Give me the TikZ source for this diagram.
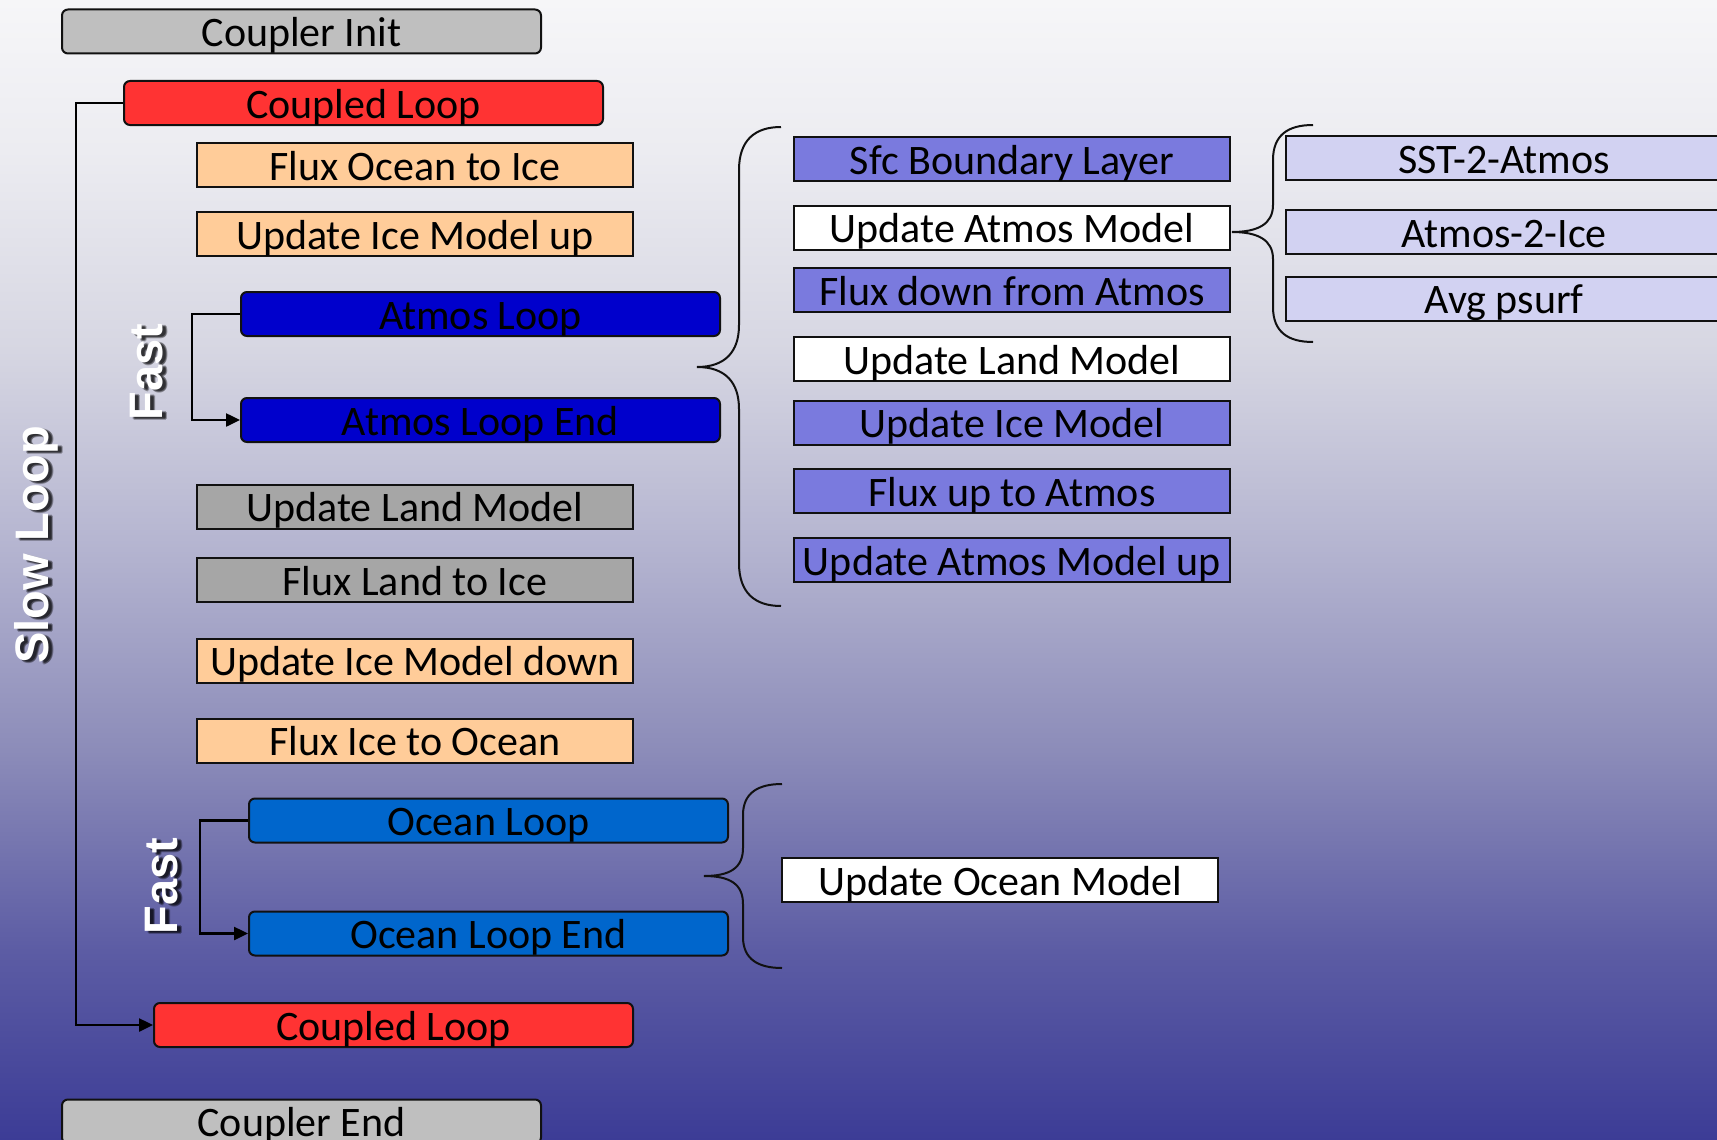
\documentclass[tikz,border=0pt]{standalone}
\usepackage{fontspec}
\setmainfont{Carlito}
\newfontfamily\tagfont{Liberation Sans}
\usetikzlibrary{arrows.meta}

% box fills
\definecolor{initgray}{HTML}{BFBFBF}
\definecolor{loopred}{HTML}{FF3333}
\definecolor{peach}{HTML}{FFCC99}
\definecolor{atmosblue}{HTML}{0000CC}
\definecolor{landgray}{HTML}{A6A6A6}
\definecolor{oceanblue}{HTML}{0066CC}
\definecolor{slate}{HTML}{7A7ADE}
\definecolor{lav}{HTML}{D2D2F2}
\definecolor{edge}{HTML}{111111}

% background gradient stops, bottom to top
\definecolor{bgF}{RGB}{60,60,150}
\definecolor{bgE}{RGB}{92,92,164}
\definecolor{bgD}{RGB}{140,140,185}
\definecolor{bgC}{RGB}{180,180,208}
\definecolor{bgB}{RGB}{214,214,226}
\definecolor{bgAA}{RGB}{236,236,241}
\definecolor{bgA}{RGB}{246,246,248}
\pgfdeclareverticalshading{bgshade}{100bp}{color(0bp)=(bgF); color(25bp)=(bgF);
  color(33.3bp)=(bgE); color(42.1bp)=(bgD); color(50.9bp)=(bgC);
  color(59.6bp)=(bgB); color(68.4bp)=(bgAA); color(75bp)=(bgA); color(100bp)=(bgA)}

\tikzset{
  box/.style={draw=edge, line width=2pt, minimum height=44pt, inner sep=0pt,
    text height=30pt, text depth=0pt, font=\fontsize{42}{48}\selectfont},
  wide/.style={box, minimum width=479pt},
  narrow/.style={box, minimum width=436pt},
  rbox/.style={wide, rounded corners=6pt},
  link/.style={line width=2.5pt, draw=black},
  arr/.style={link, -{Triangle[length=14pt,width=13pt]}},
  brace/.style={line width=2pt, draw=edge},
  tag/.style={rotate=90, text=white, inner sep=0pt,
    font=\tagfont\bfseries\fontsize{47}{56}\selectfont},
  tagshadow/.style={tag, text=black, opacity=0.3},
}

\begin{document}
\begin{tikzpicture}[x=1pt, y=-1pt]
\useasboundingbox (0,0) rectangle (1717,1140);
\clip (0,0) rectangle (1717,1140);
\shade[shading=bgshade] (0,0) rectangle (1717,1140);

% main sequence
\node[rbox, fill=initgray]  (cinit)    at (301.5,31.5) {Coupler Init};
\node[rbox, fill=loopred]   (cl1)      at (363.5,103)  {Coupled Loop};
\node[narrow, fill=peach]   (foi)      at (415,165)    {Flux Ocean to Ice};
\node[narrow, fill=peach]   (uimu)     at (415,234)    {Update Ice Model up};
\node[rbox, fill=atmosblue] (aloop)    at (480.5,314)  {Atmos Loop};
\node[rbox, fill=atmosblue] (aloopend) at (480.5,420)  {Atmos Loop End};
\node[narrow, fill=landgray](ulm)      at (415,506.5)  {Update Land Model};
\node[narrow, fill=landgray](fli)      at (415,580)    {Flux Land to Ice};
\node[narrow, fill=peach]   (uimd)     at (415,660.5)  {Update Ice Model down};
\node[narrow, fill=peach]   (fio)      at (415,740.5)  {Flux Ice to Ocean};
\node[rbox, fill=oceanblue] (oloop)    at (488.5,820.5){Ocean Loop};
\node[rbox, fill=oceanblue] (oloopend) at (488.5,933.5){Ocean Loop End};
\node[rbox, fill=loopred]   (cl2)      at (393.5,1025) {Coupled Loop};
\node[rbox, fill=initgray]  (cend)     at (301.5,1121.5){Coupler End};

% fast atmosphere steps
\node[narrow, fill=slate] (sfc)  at (1012,159)   {Sfc Boundary Layer};
\node[narrow, fill=white] (uam)  at (1012,227.5) {Update Atmos Model};
\node[narrow, fill=slate] (fdfa) at (1012,290)   {Flux down from Atmos};
\node[narrow, fill=white] (ulmf) at (1012,359)   {Update Land Model};
\node[narrow, fill=slate] (uimf) at (1012,422.5) {Update Ice Model};
\node[narrow, fill=slate] (futa) at (1012,491)   {Flux up to Atmos};
\node[narrow, fill=slate] (uamu) at (1012,560)   {Update Atmos Model up};

% atmosphere model details
\node[narrow, fill=lav] (sst) at (1504,158)   {SST-2-Atmos};
\node[narrow, fill=lav] (a2i) at (1504,232)   {Atmos-2-Ice};
\node[narrow, fill=lav] (avg) at (1504,298.5) {Avg psurf};

% fast ocean step
\node[narrow, fill=white] (uom) at (1000,880) {Update Ocean Model};

% loop connectors
\draw[arr] (cl1.west) -- ++(-47,0) |- (cl2.west);
\draw[arr] (aloop.west) -- ++(-48,0) |- (aloopend.west);
\draw[arr] (oloop.west) -- ++(-48,0) |- (oloopend.west);

% braces
\coordinate (abtop) at (781,127);
\coordinate (abtip) at (697,367);
\coordinate (abbot) at (781,606);
\draw[brace] (abtop) .. controls (755,127) and (739,140) .. (739,170)
  -- (739,325) .. controls (739,352) and (725,367) .. (abtip)
  .. controls (725,367) and (739,382) .. (739,409)
  -- (739,563) .. controls (739,593) and (755,606) .. (abbot);

\coordinate (sbtop) at (1313,125);
\coordinate (sbtip) at (1232,232);
\coordinate (sbbot) at (1313,342);
\draw[brace] (sbtop) .. controls (1288,125) and (1273,135) .. (1273,160)
  -- (1273,205) .. controls (1273,224) and (1258,232) .. (sbtip)
  .. controls (1258,232) and (1273,240) .. (1273,259)
  -- (1273,307) .. controls (1273,332) and (1288,342) .. (sbbot);

\coordinate (obtop) at (782,784);
\coordinate (obtip) at (704,876);
\coordinate (obbot) at (782,968);
\draw[brace] (obtop) .. controls (758,784) and (743,793) .. (743,815)
  -- (743,848) .. controls (743,868) and (730,876) .. (obtip)
  .. controls (730,876) and (743,884) .. (743,904)
  -- (743,937) .. controls (743,959) and (758,968) .. (obbot);

% loop labels: soft dark shadow under white bold text
\foreach \dx/\dy [count=\i] in {3/2, 4/3, 5/2, 4/1} {
  \node[tagshadow] (slowsh\i)  at (36+\dx,545+\dy) {Slow Loop};
  \node[tagshadow] (fastash\i) at (147+\dx,372+\dy) {Fast};
  \node[tagshadow] (fastosh\i) at (162+\dx,886+\dy) {Fast};
}
\node[tag] (slow)  at (36,545)  {Slow Loop};
\node[tag] (fasta) at (147,372) {Fast};
\node[tag] (fasto) at (162,886) {Fast};
\end{tikzpicture}
\end{document}
